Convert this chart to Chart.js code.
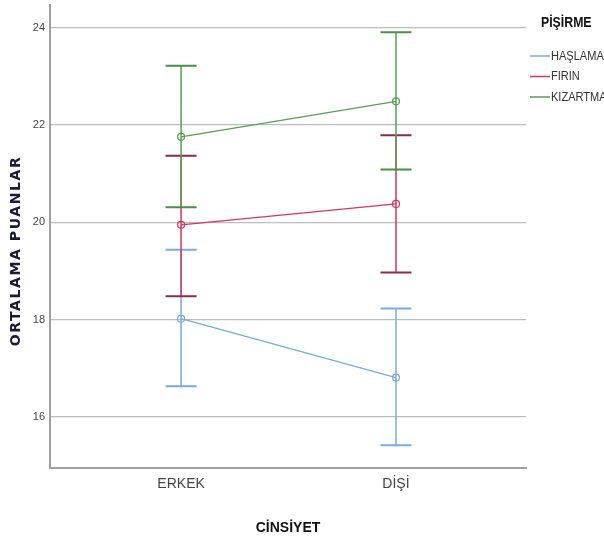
<!DOCTYPE html>
<html><head><meta charset="utf-8">
<script src="https://cdn.jsdelivr.net/npm/chart.js@4/dist/chart.umd.min.js"></script>
<style>html,body{margin:0;padding:0;background:#fff}#wrap{position:relative;width:604px;height:545px}</style>
</head><body><div id="wrap"><canvas id="c" width="604" height="545"></canvas></div>
<script>
const categories = ['ERKEK', 'DİŞİ'];
const seriesNames = ['HAŞLAMA', 'FIRIN', 'KIZARTMA'];
const haslamaMean = [18.02, 16.81];
const haslamaLow = [16.63, 15.42];
const haslamaHigh = [19.44, 18.23];
const firinMean = [19.95, 20.38];
const firinLow = [18.48, 18.97];
const firinHigh = [21.37, 21.79];
const kizartmaMean = [21.76, 22.49];
const kizartmaLow = [20.31, 21.09];
const kizartmaHigh = [23.22, 23.91];
const yTicks = [16, 18, 20, 22, 24];
const colors = ['#78abdb', '#d3365e', '#579e55'];
const capColors = ['#78abdb', '#8a2a52', '#4a8f48'];

const means = [haslamaMean, firinMean, kizartmaMean];
const lows = [haslamaLow, firinLow, kizartmaLow];
const highs = [haslamaHigh, firinHigh, kizartmaHigh];

const REG = '"Liberation Sans", Arial, sans-serif';

const datasets = seriesNames.map((n, i) => ({
  label: n,
  data: means[i].map((v, j) => ({x: j, y: v, lo: lows[i][j], hi: highs[i][j]})),
  borderColor: colors[i],
  capColor: capColors[i],
  backgroundColor: 'rgba(0,0,0,0)',
  borderWidth: 1.3,
  pointRadius: 3.5,
  pointBorderWidth: 1.2,
  pointBackgroundColor: 'rgba(0,0,0,0)',
  pointBorderColor: colors[i],
  tension: 0
}));

const errorBars = {
  id: 'errorBars',
  afterDatasetsDraw(chart) {
    const ctx = chart.ctx, xs = chart.scales.x, ys = chart.scales.y;
    ctx.save();
    chart.data.datasets.forEach(ds => {
      ds.data.forEach(p => {
        const x = xs.getPixelForValue(p.x);
        const yl = ys.getPixelForValue(p.lo), yh = ys.getPixelForValue(p.hi);
        ctx.strokeStyle = ds.borderColor;
        ctx.lineWidth = 1.5;
        ctx.beginPath(); ctx.moveTo(x, yl); ctx.lineTo(x, yh); ctx.stroke();
        ctx.strokeStyle = ds.capColor;
        ctx.lineWidth = 2;
        ctx.beginPath(); ctx.moveTo(x - 15.5, yl); ctx.lineTo(x + 15.5, yl);
        ctx.moveTo(x - 15.5, yh); ctx.lineTo(x + 15.5, yh); ctx.stroke();
      });
    });
    ctx.restore();
  }
};

function narrowText(ctx, text, x, y, sx) {
  ctx.save();
  ctx.translate(x, y);
  ctx.scale(sx, 1);
  ctx.fillText(text, 0, 0);
  ctx.restore();
}

const textPlugin = {
  id: 'customText',
  afterDraw(chart) {
    const ctx = chart.ctx;
    ctx.save();
    // legend
    ctx.fillStyle = '#111';
    ctx.font = 'bold 15px ' + REG;
    ctx.textBaseline = 'middle';
    ctx.textAlign = 'left';
    narrowText(ctx, 'PİŞİRME', 541, 23, 0.82);
    ctx.font = '13px ' + REG;
    chart.data.datasets.forEach((ds, i) => {
      const y = 56 + i * 20.5;
      ctx.strokeStyle = ds.borderColor;
      ctx.lineWidth = 1.5;
      ctx.beginPath(); ctx.moveTo(530, y); ctx.lineTo(550, y); ctx.stroke();
      ctx.fillStyle = '#333';
      narrowText(ctx, ds.label, 551, y, 0.85);
    });
    // y-axis title
    ctx.translate(16, 251);
    ctx.rotate(-Math.PI / 2);
    ctx.textAlign = 'center';
    ctx.fillStyle = '#1a1a33';
    ctx.font = 'bold 14px "DejaVu Sans", ' + REG;
    if ('letterSpacing' in ctx) ctx.letterSpacing = '1.6px';
    ctx.fillText('ORTALAMA PUANLAR', 0, 0);
    ctx.restore();
  }
};

new Chart(document.getElementById('c'), {
  type: 'line',
  data: { datasets },
  options: {
    responsive: false,
    animation: false,
    layout: { autoPadding: false, padding: { left: 6, right: 78, top: 5, bottom: 8 } },
    plugins: { legend: { display: false }, tooltip: { enabled: false } },
    scales: {
      x: {
        type: 'linear',
        min: -0.61, max: 1.605,
        afterBuildTicks: s => { s.ticks = categories.map((c, i) => ({value: i})); },
        afterFit: s => { s.height = 69; s.paddingLeft = 0; s.paddingRight = 0; },
        ticks: { callback: v => categories[v], color: '#444', font: { size: 14, family: REG }, padding: 8, autoSkip: false, maxRotation: 0 },
        grid: { display: false, drawTicks: false },
        border: { color: '#a0a0a0', width: 2 },
        title: { display: true, text: 'CİNSİYET', color: '#111', font: { size: 14, weight: 'bold', family: REG }, padding: { top: 14, bottom: 0 } }
      },
      y: {
        min: 14.95, max: 24.47,
        afterBuildTicks: s => { s.ticks = yTicks.map(v => ({value: v})); },
        afterFit: s => { s.width = 44; s.paddingTop = 0; s.paddingBottom = 0; },
        ticks: { color: '#444', font: { size: 11, family: REG }, padding: 5 },
        grid: { color: '#bdbdbd', lineWidth: 1.3, drawTicks: false },
        border: { color: '#a0a0a0', width: 2 },
        title: { display: false }
      }
    }
  },
  plugins: [errorBars, textPlugin]
});
</script></body></html>
